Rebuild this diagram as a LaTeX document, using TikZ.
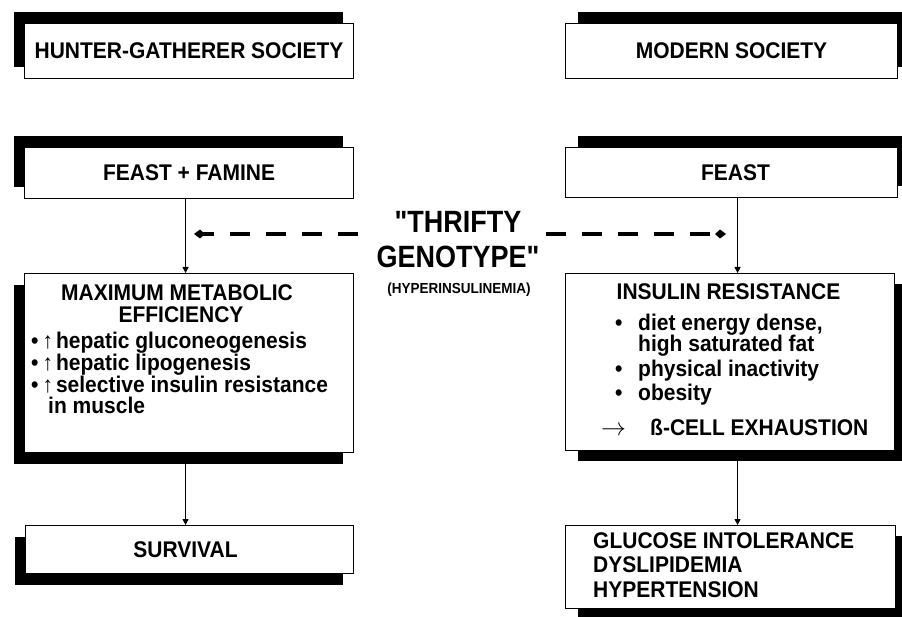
\documentclass[tikz,border=0pt]{standalone}
\usepackage{fontspec}
\setmainfont{Liberation Sans}[Ligatures=TeXOff]
\usetikzlibrary{arrows.meta,shadows}
\newcommand{\tallt}[1]{\scalebox{1}[1.08]{#1}}
\begin{document}
\begin{tikzpicture}[x=1pt,y=-1pt,
  box/.style={draw, line width=1.1pt, fill=white, inner sep=0pt, anchor=north west,
    font=\fontsize{21}{20}\selectfont\bfseries},
  shUL/.style={general shadow={fill=black, shadow xshift=-11pt, shadow yshift=12pt}},
  shUR/.style={general shadow={fill=black, shadow xshift=12pt, shadow yshift=12pt}},
  shDL/.style={general shadow={fill=black, shadow xshift=-11pt, shadow yshift=-11pt}},
  shDR/.style={general shadow={fill=black, shadow xshift=12pt, shadow yshift=-10pt}},
  txt/.style={inner sep=0pt, anchor=base west, font=\fontsize{21}{20}\selectfont\bfseries},
  ctxt/.style={inner sep=0pt, anchor=base, font=\fontsize{21}{20}\selectfont\bfseries},
  conn/.style={line width=1.1pt, -{Triangle[length=6pt,width=6pt]}},
  dasharrow/.style={line width=3.5pt, dash pattern=on 20pt off 16pt, -{Kite[length=11pt,width=9pt,inset=5pt]}}
]
\path[use as bounding box, clip] (0,0) rectangle (902,617);

% boxes
\node[box, shUL, minimum width=329pt, minimum height=55pt] (hg) at (24,23) {\tallt{HUNTER-GATHERER SOCIETY}};
\node[box, shUR, minimum width=332pt, minimum height=55pt] (ms) at (565,23) {\tallt{MODERN SOCIETY}};
\node[box, shUL, minimum width=329pt, minimum height=51pt] (ff) at (24,147) {\tallt{FEAST + FAMINE}};
\node[box, shUR, minimum width=332pt, minimum height=50pt] (fe) at (565,147) {\tallt{\kern8pt FEAST}};
\node[box, shDL, minimum width=329pt, minimum height=179pt] (mme) at (24,273) {};
\node[box, shDR, minimum width=329pt, minimum height=177pt] (ir) at (565,273) {};
\node[box, shDL, minimum width=328pt, minimum height=48pt] (sv) at (25,525) {\tallt{SURVIVAL\kern8pt}};
\node[box, shDR, minimum width=330pt, minimum height=83pt] (gi) at (565,525) {};

% text of maximum metabolic efficiency
\node[ctxt] (m1) at (177,301) {\tallt{MAXIMUM METABOLIC}};
\node[ctxt] (m2) at (181,323) {\tallt{EFFICIENCY}};
\node[txt] (m3) at (31,349) {\tallt{•\kern4pt↑\kern3pt hepatic gluconeogenesis}};
\node[txt] (m4) at (31,370.5) {\tallt{•\kern4pt↑\kern3pt hepatic lipogenesis}};
\node[txt] (m5) at (31,392) {\tallt{•\kern4pt↑\kern3pt selective insulin resistance}};
\node[txt] (m6) at (48,413.5) {\tallt{in muscle}};

% text of insulin resistance
\node[ctxt] (i1) at (728.5,300) {\tallt{INSULIN RESISTANCE}};
\node[txt] (ib1) at (615,331) {\tallt{•}};
\node[txt] (i2) at (638,331) {\tallt{diet energy dense,}};
\node[txt] (i3) at (638,352) {\tallt{high saturated fat}};
\node[txt] (ib2) at (615,377) {\tallt{•}};
\node[txt] (i4) at (638,377) {\tallt{physical inactivity}};
\node[txt] (ib3) at (615,400) {\tallt{•}};
\node[txt] (i5) at (638,400) {\tallt{obesity}};
\node[txt, font=\fontsize{25}{25}\selectfont] (ia) at (601,435) {$\rightarrow$};
\node[txt] (i6) at (650,435) {\tallt{ß-CELL EXHAUSTION}};

% text of glucose intolerance
\node[txt] (g1) at (593,548) {\tallt{GLUCOSE INTOLERANCE}};
\node[txt] (g2) at (593,572) {\tallt{DYSLIPIDEMIA}};
\node[txt] (g3) at (593,597) {\tallt{HYPERTENSION}};

% thrifty genotype
\node[inner sep=0pt, anchor=base, font=\fontsize{27}{30}\selectfont\bfseries] (t1) at (458,233) {\scalebox{1}[1.14]{"THRIFTY}};
\node[inner sep=0pt, anchor=base, font=\fontsize{27}{30}\selectfont\bfseries] (t2) at (458,268) {\scalebox{1}[1.14]{GENOTYPE"}};
\node[inner sep=0pt, anchor=base, font=\fontsize{13.5}{14}\selectfont\bfseries] (hy) at (459,294) {\tallt{(HYPERINSULINEMIA)}};

% connectors
\draw[conn] ([xshift=-3.5pt]ff.south) -- ([xshift=-3.5pt]ff.south |- mme.north);
\draw[conn] ([xshift=-3.5pt]mme.south) -- ([xshift=-3.5pt]mme.south |- sv.north);
\draw[conn] ([xshift=6pt]fe.south) -- ([xshift=6pt]fe.south |- ir.north);
\draw[conn] ([xshift=7.5pt]ir.south) -- ([xshift=7.5pt]ir.south |- gi.north);

\coordinate (dl) at (194,234);
\coordinate (dr) at (726,234);
\draw[dasharrow] ([xshift=-18pt]t2.west |- dl) -- (dl);
\draw[dasharrow] ([xshift=6pt]t2.east |- dr) -- (dr);
\end{tikzpicture}
\end{document}
